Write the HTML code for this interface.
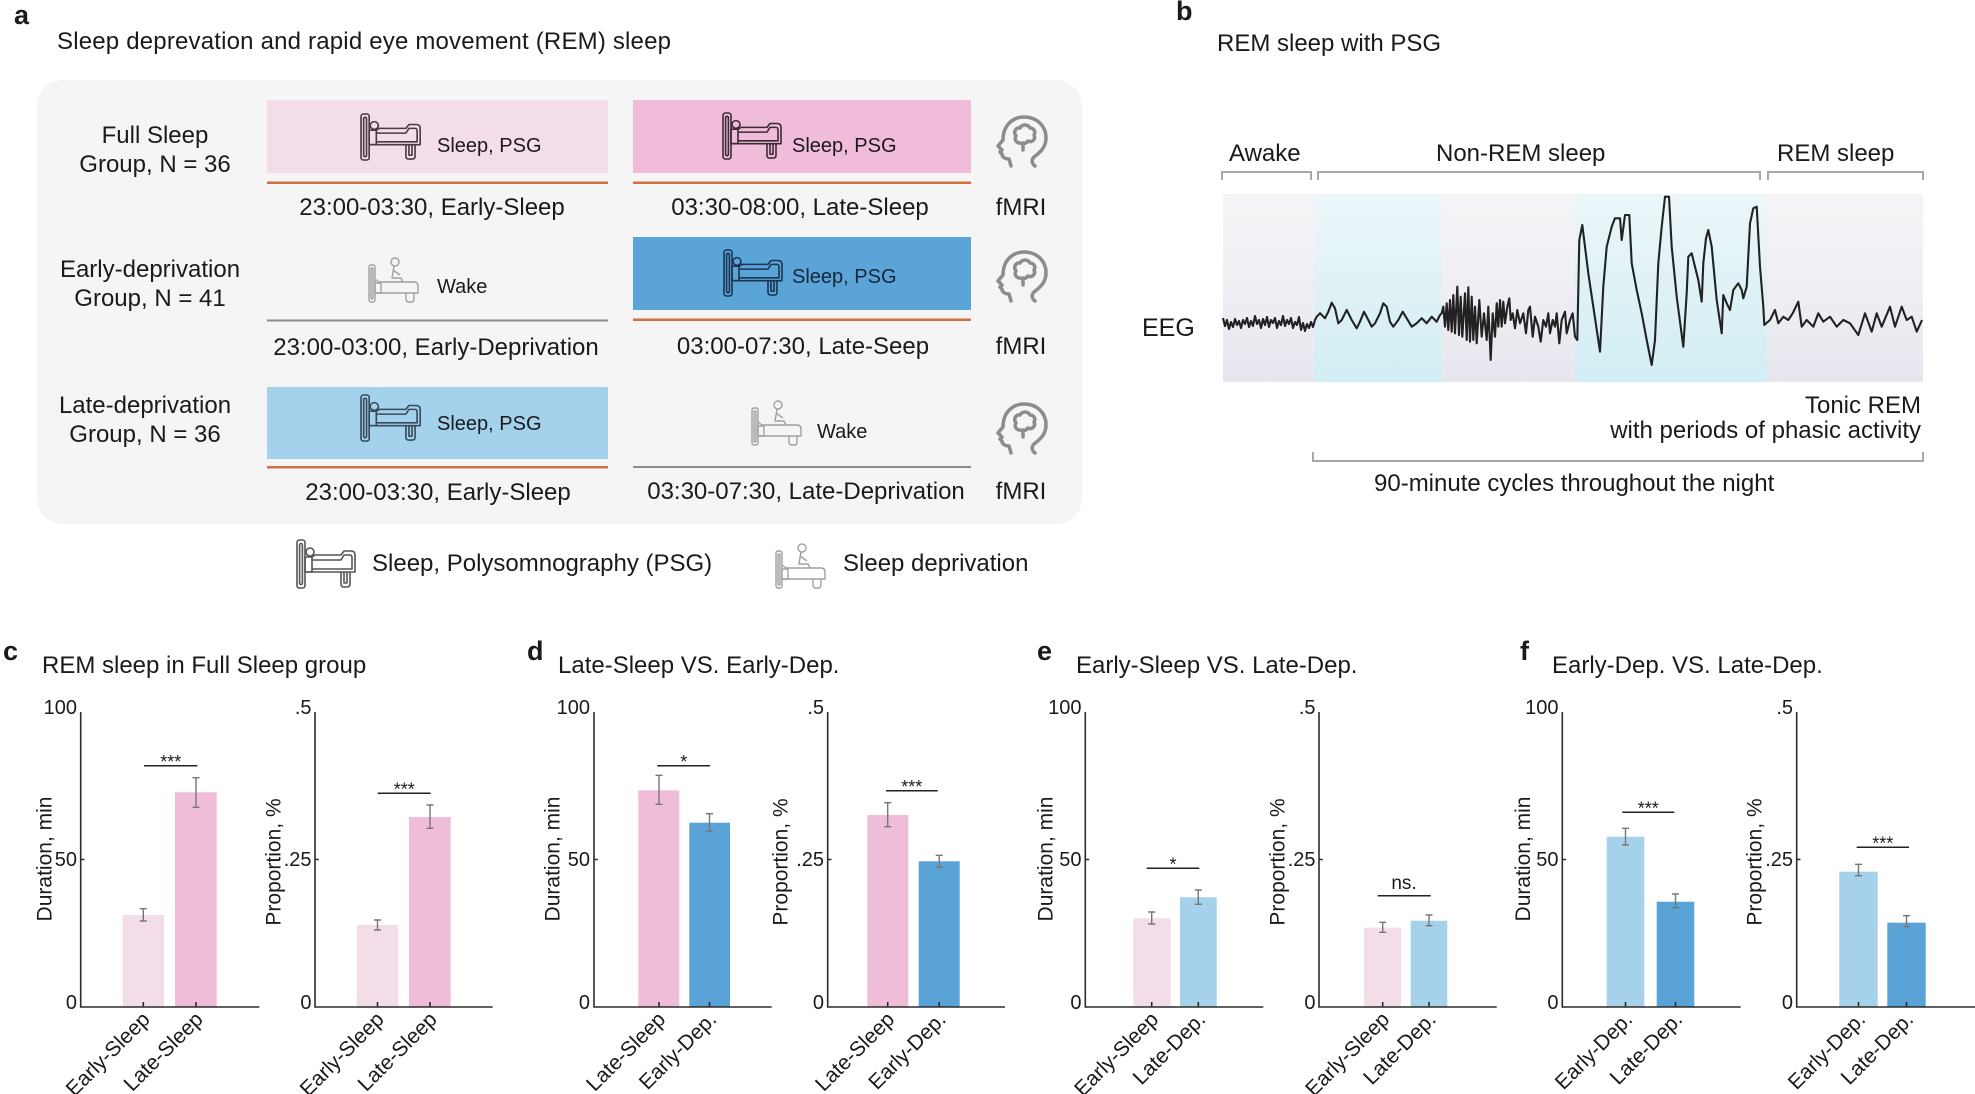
<!DOCTYPE html>
<html><head><meta charset="utf-8">
<style>
html,body{margin:0;padding:0;background:#fff;width:1975px;height:1094px;overflow:hidden;}
svg{display:block;}
text{font-family:"Liberation Sans",Arial,sans-serif;fill:#1a1a1a;}
</style></head><body>
<svg width="1975" height="1094" viewBox="0 0 1975 1094" xmlns="http://www.w3.org/2000/svg">
<defs>
 <linearGradient id="lav" x1="0" y1="0" x2="0" y2="1"><stop offset="0" stop-color="#f5f5f8"/><stop offset="1" stop-color="#e7e7ef"/></linearGradient>
 <linearGradient id="cya" x1="0" y1="0" x2="0" y2="1"><stop offset="0" stop-color="#ecf6f9"/><stop offset="1" stop-color="#d2eef4"/></linearGradient>
</defs>

<!-- ============ PANEL A ============ -->
<text x="14" y="24" font-size="27" font-weight="bold">a</text>
<text x="57" y="49" font-size="24" textLength="614" lengthAdjust="spacing">Sleep deprevation and rapid eye movement (REM) sleep</text>
<rect x="37" y="80" width="1045" height="444" rx="26" fill="#f5f5f5"/>

<!-- Row 1 -->
<text x="155" y="143" font-size="24" text-anchor="middle">Full Sleep</text>
<text x="155" y="172" font-size="24" text-anchor="middle">Group, N = 36</text>
<rect x="267" y="100" width="341" height="73" fill="#f2dde9"/>
<g transform="translate(360,113) scale(1.02,0.96)" fill="none" stroke="#4a3a42" stroke-width="1.6" stroke-linejoin="round">
 <rect x="1" y="1" width="8" height="48" rx="2.5"/><rect x="3.6" y="4.5" width="2.8" height="41" rx="1.4"/>
 <circle cx="14" cy="13" r="4"/><rect x="9" y="18" width="7" height="15"/>
 <path d="M16 18 L19 16 H45 L48 12 H55 Q59 12 59 16 V33 H9"/><path d="M16 21 H45 L48 16 H54 Q56 16 56 19 V30 H16"/>
 <path d="M45 33 V45 Q45 48 48 48 H51 Q54 48 54 45 V33"/><path d="M48 33 V44 H51 V33"/>
</g>
<text x="437" y="152" font-size="20">Sleep, PSG</text>
<rect x="267" y="181.5" width="341" height="2.5" fill="#d2703f"/>
<text x="432" y="215" font-size="24" text-anchor="middle">23:00-03:30, Early-Sleep</text>

<rect x="633" y="100" width="338" height="73" fill="#f0bcd9"/>
<g transform="translate(722,112) scale(1.0,0.96)" fill="none" stroke="#3b2c33" stroke-width="1.6" stroke-linejoin="round">
 <rect x="1" y="1" width="8" height="48" rx="2.5"/><rect x="3.6" y="4.5" width="2.8" height="41" rx="1.4"/>
 <circle cx="14" cy="13" r="4"/><rect x="9" y="18" width="7" height="15"/>
 <path d="M16 18 L19 16 H45 L48 12 H55 Q59 12 59 16 V33 H9"/><path d="M16 21 H45 L48 16 H54 Q56 16 56 19 V30 H16"/>
 <path d="M45 33 V45 Q45 48 48 48 H51 Q54 48 54 45 V33"/><path d="M48 33 V44 H51 V33"/>
</g>
<text x="792" y="152" font-size="20">Sleep, PSG</text>
<rect x="633" y="181.5" width="338" height="2.5" fill="#d2703f"/>
<text x="800" y="215" font-size="24" text-anchor="middle">03:30-08:00, Late-Sleep</text>
<g transform="translate(993,113)" fill="none" stroke="#8c8c8c" stroke-width="3.5" stroke-linecap="round" stroke-linejoin="round">
 <path d="M18 53 L16 46 C12 46 9 44 9 41 L7 39 L9 37 L5 33 L10 27 C10 12 20 4 31 4 C44 4 53 13 53 25 C53 35 46 40 41 44 C38 47 39 51 42 53"/>
 <path d="M27 30 C23 30 21 26 23 23 C20 19 23 14 27 15 C29 11 35 11 37 15 C41 15 43 19 41 22 C43 26 39 30 35 28 C33 31 29 31 27 30 Z M30 30 L30 37"/>
</g>
<text x="1021" y="215" font-size="24" text-anchor="middle">fMRI</text>

<!-- Row 2 -->
<text x="150" y="277" font-size="24" text-anchor="middle">Early-deprivation</text>
<text x="150" y="306" font-size="24" text-anchor="middle">Group, N = 41</text>
<g transform="translate(368,257)" fill="none" stroke="#a0a0a0" stroke-width="1.4" stroke-linejoin="round">
 <rect x="1" y="8" width="6" height="37" rx="2"/><rect x="3" y="11" width="2" height="31" rx="1"/>
 <circle cx="27" cy="5" r="4"/><path d="M26 9 L24 21 H33 L35 25"/><path d="M25 13 L32 18"/>
 <path d="M7 22 L11 25 H46 Q50 25 50 29 V36 H7"/><rect x="7" y="26" width="6" height="10"/>
 <path d="M38 36 V42 Q38 45 41 45 H43 Q46 45 46 42 V36"/>
</g>
<text x="437" y="293" font-size="20">Wake</text>
<rect x="267" y="319.5" width="341" height="2" fill="#8c8c8c"/>
<text x="436" y="355" font-size="24" text-anchor="middle">23:00-03:00, Early-Deprivation</text>

<rect x="633" y="237" width="338" height="73" fill="#5aa4d8"/>
<g transform="translate(723,249) scale(1.0,0.96)" fill="none" stroke="#1c3450" stroke-width="1.6" stroke-linejoin="round">
 <rect x="1" y="1" width="8" height="48" rx="2.5"/><rect x="3.6" y="4.5" width="2.8" height="41" rx="1.4"/>
 <circle cx="14" cy="13" r="4"/><rect x="9" y="18" width="7" height="15"/>
 <path d="M16 18 L19 16 H45 L48 12 H55 Q59 12 59 16 V33 H9"/><path d="M16 21 H45 L48 16 H54 Q56 16 56 19 V30 H16"/>
 <path d="M45 33 V45 Q45 48 48 48 H51 Q54 48 54 45 V33"/><path d="M48 33 V44 H51 V33"/>
</g>
<text x="792" y="283" font-size="20" style="fill:#15253d">Sleep, PSG</text>
<rect x="633" y="318.5" width="338" height="2.5" fill="#d2703f"/>
<text x="803" y="354" font-size="24" text-anchor="middle">03:00-07:30, Late-Seep</text>
<g transform="translate(993,248)" fill="none" stroke="#8c8c8c" stroke-width="3.5" stroke-linecap="round" stroke-linejoin="round">
 <path d="M18 53 L16 46 C12 46 9 44 9 41 L7 39 L9 37 L5 33 L10 27 C10 12 20 4 31 4 C44 4 53 13 53 25 C53 35 46 40 41 44 C38 47 39 51 42 53"/>
 <path d="M27 30 C23 30 21 26 23 23 C20 19 23 14 27 15 C29 11 35 11 37 15 C41 15 43 19 41 22 C43 26 39 30 35 28 C33 31 29 31 27 30 Z M30 30 L30 37"/>
</g>
<text x="1021" y="354" font-size="24" text-anchor="middle">fMRI</text>

<!-- Row 3 -->
<text x="145" y="413" font-size="24" text-anchor="middle">Late-deprivation</text>
<text x="145" y="442" font-size="24" text-anchor="middle">Group, N = 36</text>
<rect x="267" y="387" width="341" height="72" fill="#a4d1ec"/>
<g transform="translate(360,394) scale(1.02,0.96)" fill="none" stroke="#3a4a5a" stroke-width="1.6" stroke-linejoin="round">
 <rect x="1" y="1" width="8" height="48" rx="2.5"/><rect x="3.6" y="4.5" width="2.8" height="41" rx="1.4"/>
 <circle cx="14" cy="13" r="4"/><rect x="9" y="18" width="7" height="15"/>
 <path d="M16 18 L19 16 H45 L48 12 H55 Q59 12 59 16 V33 H9"/><path d="M16 21 H45 L48 16 H54 Q56 16 56 19 V30 H16"/>
 <path d="M45 33 V45 Q45 48 48 48 H51 Q54 48 54 45 V33"/><path d="M48 33 V44 H51 V33"/>
</g>
<text x="437" y="430" font-size="20">Sleep, PSG</text>
<rect x="267" y="466" width="341" height="2.5" fill="#d2703f"/>
<text x="438" y="500" font-size="24" text-anchor="middle">23:00-03:30, Early-Sleep</text>

<g transform="translate(751,400)" fill="none" stroke="#a0a0a0" stroke-width="1.4" stroke-linejoin="round">
 <rect x="1" y="8" width="6" height="37" rx="2"/><rect x="3" y="11" width="2" height="31" rx="1"/>
 <circle cx="27" cy="5" r="4"/><path d="M26 9 L24 21 H33 L35 25"/><path d="M25 13 L32 18"/>
 <path d="M7 22 L11 25 H46 Q50 25 50 29 V36 H7"/><rect x="7" y="26" width="6" height="10"/>
 <path d="M38 36 V42 Q38 45 41 45 H43 Q46 45 46 42 V36"/>
</g>
<text x="817" y="438" font-size="20">Wake</text>
<rect x="633" y="466" width="338" height="2" fill="#8c8c8c"/>
<text x="806" y="499" font-size="24" text-anchor="middle">03:30-07:30, Late-Deprivation</text>
<g transform="translate(993,400)" fill="none" stroke="#8c8c8c" stroke-width="3.5" stroke-linecap="round" stroke-linejoin="round">
 <path d="M18 53 L16 46 C12 46 9 44 9 41 L7 39 L9 37 L5 33 L10 27 C10 12 20 4 31 4 C44 4 53 13 53 25 C53 35 46 40 41 44 C38 47 39 51 42 53"/>
 <path d="M27 30 C23 30 21 26 23 23 C20 19 23 14 27 15 C29 11 35 11 37 15 C41 15 43 19 41 22 C43 26 39 30 35 28 C33 31 29 31 27 30 Z M30 30 L30 37"/>
</g>
<text x="1021" y="499" font-size="24" text-anchor="middle">fMRI</text>

<!-- Legend -->
<g transform="translate(296,539)" fill="none" stroke="#555" stroke-width="1.6" stroke-linejoin="round">
 <rect x="1" y="1" width="8" height="48" rx="2.5"/><rect x="3.6" y="4.5" width="2.8" height="41" rx="1.4"/>
 <circle cx="14" cy="13" r="4"/><rect x="9" y="18" width="7" height="15"/>
 <path d="M16 18 L19 16 H45 L48 12 H55 Q59 12 59 16 V33 H9"/><path d="M16 21 H45 L48 16 H54 Q56 16 56 19 V30 H16"/>
 <path d="M45 33 V45 Q45 48 48 48 H51 Q54 48 54 45 V33"/><path d="M48 33 V44 H51 V33"/>
</g>
<text x="372" y="571" font-size="24">Sleep, Polysomnography (PSG)</text>
<g transform="translate(775,543)" fill="none" stroke="#a0a0a0" stroke-width="1.4" stroke-linejoin="round">
 <rect x="1" y="8" width="6" height="37" rx="2"/><rect x="3" y="11" width="2" height="31" rx="1"/>
 <circle cx="27" cy="5" r="4"/><path d="M26 9 L24 21 H33 L35 25"/><path d="M25 13 L32 18"/>
 <path d="M7 22 L11 25 H46 Q50 25 50 29 V36 H7"/><rect x="7" y="26" width="6" height="10"/>
 <path d="M38 36 V42 Q38 45 41 45 H43 Q46 45 46 42 V36"/>
</g>
<text x="843" y="571" font-size="24">Sleep deprivation</text>

<!-- ============ PANEL B ============ -->
<text x="1176" y="20" font-size="27" font-weight="bold">b</text>
<text x="1217" y="51" font-size="24">REM sleep with PSG</text>
<text x="1229" y="161" font-size="24">Awake</text>
<text x="1436" y="161" font-size="24">Non-REM sleep</text>
<text x="1777" y="161" font-size="24">REM sleep</text>
<g fill="none" stroke="#a8a8a8" stroke-width="2">
 <path d="M1222 180 V172 H1311 V180"/>
 <path d="M1318 180 V172 H1760 V180"/>
 <path d="M1768 180 V172 H1923 V180"/>
 <path d="M1313 452 V461 H1923 V452"/>
</g>
<rect x="1223" y="194" width="92" height="188" fill="url(#lav)"/>
<rect x="1315" y="194" width="126" height="188" fill="url(#cya)"/>
<rect x="1441" y="194" width="134" height="188" fill="url(#lav)"/>
<rect x="1575" y="194" width="192" height="188" fill="url(#cya)"/>
<rect x="1767" y="194" width="156" height="188" fill="url(#lav)"/>
<text x="1142" y="336" font-size="25">EEG</text>
<polyline fill="none" stroke="#222" stroke-width="2.1" stroke-linejoin="round" points="
1223,318 1225,326 1227,320 1229,329 1231,322 1233,327 1235,319 1237,325 1239,321 1241,328 1243,320 1245,324 1247,318 1249,327 1251,321 1253,326 1255,316 1257,324 1259,320 1261,328 1263,319 1265,325 1267,317 1269,327 1271,320 1273,323 1275,318 1277,328 1279,321 1281,325 1283,316 1285,326 1287,320 1289,324 1291,318 1293,328 1295,322 1297,325 1299,317 1301,330 1303,323 1305,331 1307,324 1309,328 1311,322 1313,327 1315,320
1316.7,316.7 1320,313.3 1325,318.3 1328.3,311.7 1331.7,302.7 1335,308.3 1338.3,323.3 1341.7,320 1346.7,310 1351.7,320 1356.7,328.3 1360,321.7 1364,311.7 1368.3,320 1371.7,326.7 1375,323.3 1380,313.3 1383.3,303.3 1386.7,306.7 1390,321.7 1393.3,326.7 1398.3,320 1402.7,311.7 1406.7,318.3 1411.7,326.7 1416.7,323.3 1421.7,318.3 1426.7,323.3 1431.7,316.7 1436.7,321.7 1440,315
1441.7,313.3 1443.3,306.7 1445,326.7 1446.7,303.3 1448.3,330 1450,300 1451.7,331.7 1453.3,295 1455,333.3 1457.3,286.7 1459,335 1460.7,296.7 1462.3,336.7 1465,293.3 1466.7,340 1468.3,287.3 1470,341.7 1471.7,296.7 1473.3,340 1475,306.7 1476.7,343.3 1479.3,300 1481.7,336.7 1484,313.3 1486.7,340 1488.3,306.7 1490.7,360 1492.7,313.3 1495,336.7 1496.7,303.3 1498.3,326.7 1500,300 1501.7,326.7 1503.3,301.7 1505,323.3 1507.3,306.7 1509.3,298.3 1510.7,320 1512.7,313.3 1515,328.3 1517.3,310 1520,323.3 1523.3,313.3 1526,333.3 1528.3,310 1530,306.7 1532.7,336.7 1535,316.7 1538.3,326.7 1540.7,341.7 1543.3,320 1546,326.7 1548.3,313.3 1550,333.3 1552.7,320 1555,326.7 1556.7,313.3 1559.3,343.3 1561.7,320 1565,311.7 1566.7,333.3 1570,320 1572.7,313.3 1575,336.7 1577.3,340
1579.3,240 1582.3,225 1585,246.7 1588.3,273.3 1593.3,306.7 1600,351.7 1603.3,286.7 1606.7,246.7 1611.7,226.7 1615,218.3 1620,218.3 1621.7,240 1625,215 1629.3,215 1631.7,263.3 1636.7,290 1641.7,313.3 1646.7,340 1651.7,365 1655,340 1658.3,263.3 1661.7,226.7 1665,196.7 1669,196.7 1671.7,246.7 1676.7,296.7 1683.3,346.7 1686.7,293.3 1688.3,256.7 1691.7,253.3 1695,266.7 1698.3,280 1701.7,301.7 1703.3,263.3 1706,238.3 1708.3,230 1711.7,246.7 1716.7,300 1721.7,333.3 1723.3,295 1726.7,303.3 1730,310 1733.3,290 1738.3,283.3 1741.7,290 1743.3,298.3 1746.7,286.7 1750,223.3 1753.3,208.3 1756.7,206.7 1760,266.7 1763.3,306.7 1764.3,325
1770,320 1775,310 1778.3,323.3 1783.3,316.7 1788.3,320 1792.7,313.3 1798.3,301.7 1801.7,326.7 1806.7,320 1813.3,326.7 1818.3,313.3 1823.3,321.7 1830,316.7 1836.7,326.7 1843.3,320 1850,323.3 1858.3,335 1865,313.3 1871.7,331.7 1876.7,313.3 1881.7,326.7 1890,306.7 1895,326.7 1901.7,306.7 1906.7,320 1911.7,316.7 1916.7,331.7 1922,320"/>
<text x="1921" y="413" font-size="24" text-anchor="end">Tonic REM</text>
<text x="1921" y="438" font-size="24" text-anchor="end">with periods of phasic activity</text>
<text x="1374" y="491" font-size="24">90-minute cycles throughout the night</text>

<!-- ============ PANELS C-F ============ -->
<text x="3" y="660" font-size="27" font-weight="bold">c</text>
<text x="42" y="673" font-size="24">REM sleep in Full Sleep group</text>
<text x="527" y="660" font-size="27" font-weight="bold">d</text>
<text x="558" y="673" font-size="24">Late-Sleep VS. Early-Dep.</text>
<text x="1037" y="660" font-size="27" font-weight="bold">e</text>
<text x="1076" y="673" font-size="24">Early-Sleep VS. Late-Dep.</text>
<text x="1520" y="660" font-size="27" font-weight="bold">f</text>
<text x="1552" y="673" font-size="24">Early-Dep. VS. Late-Dep.</text>

<!-- Bars -->
<g>
 <rect x="122.7" y="915" width="41.3" height="92" fill="#f3dde9"/>
 <rect x="175" y="792.3" width="41.7" height="214.7" fill="#f0bdd8"/>
 <rect x="356.7" y="925" width="41.6" height="82" fill="#f3dde9"/>
 <rect x="409" y="817" width="41.7" height="190" fill="#f0bdd8"/>
 <rect x="638.3" y="790.3" width="41" height="216.7" fill="#f0bdd8"/>
 <rect x="689.3" y="822.7" width="40.7" height="184.3" fill="#5aa3d6"/>
 <rect x="867.3" y="815" width="41" height="192" fill="#f0bdd8"/>
 <rect x="918.7" y="861.3" width="41" height="145.7" fill="#5aa3d6"/>
 <rect x="1133.3" y="918.3" width="37.4" height="88.7" fill="#f3dde9"/>
 <rect x="1180" y="897.3" width="36.7" height="109.7" fill="#a5d1eb"/>
 <rect x="1364" y="927.7" width="37" height="79.3" fill="#f3dde9"/>
 <rect x="1410.7" y="920.7" width="36.6" height="86.3" fill="#a5d1eb"/>
 <rect x="1606.7" y="836.7" width="37.6" height="170.3" fill="#a5d1eb"/>
 <rect x="1656.7" y="901.7" width="37.6" height="105.3" fill="#5aa3d6"/>
 <rect x="1839.3" y="871.7" width="38.4" height="135.3" fill="#a5d1eb"/>
 <rect x="1887.3" y="922.7" width="38.4" height="84.3" fill="#5aa3d6"/>
</g>
<!-- Error bars -->
<g stroke="#767676" stroke-width="1.4" fill="none">
 <path d="M143.3 908.7V921M139.8 908.7H146.8M139.8 921H146.8"/>
 <path d="M196 777.7V807.3M192.5 777.7H199.5M192.5 807.3H199.5"/>
 <path d="M377.5 920V930M374 920H381M374 930H381"/>
 <path d="M430 805V828.3M426.5 805H433.5M426.5 828.3H433.5"/>
 <path d="M659 775.3V804.3M655.5 775.3H662.5M655.5 804.3H662.5"/>
 <path d="M709.5 813.7V831.3M706 813.7H713M706 831.3H713"/>
 <path d="M887.7 802.7V826.7M884.2 802.7H891.2M884.2 826.7H891.2"/>
 <path d="M939.2 855.3V867.3M935.7 855.3H942.7M935.7 867.3H942.7"/>
 <path d="M1151.7 912V924M1148.2 912H1155.2M1148.2 924H1155.2"/>
 <path d="M1198.3 890V904.3M1194.8 890H1201.8M1194.8 904.3H1201.8"/>
 <path d="M1382.7 922.3V932.3M1379.2 922.3H1386.2M1379.2 932.3H1386.2"/>
 <path d="M1429 915V925.7M1425.5 915H1432.5M1425.5 925.7H1432.5"/>
 <path d="M1625.5 828.3V845M1622 828.3H1629M1622 845H1629"/>
 <path d="M1675.5 894V907.7M1672 894H1679M1672 907.7H1679"/>
 <path d="M1858.5 864.3V875.7M1855 864.3H1862M1855 875.7H1862"/>
 <path d="M1906.5 915.7V926.7M1903 915.7H1910M1903 926.7H1910"/>
</g>
<!-- Axes -->
<g stroke="#2b2b2b" stroke-width="1.6" fill="none">
 <path d="M80.7 712V1007H259.3M80.7 859.5H84.5M143.3 1007V1002M196 1007V1002"/>
 <path d="M315 712V1007H492.7M315 859.5H318.8M377.5 1007V1002M430 1007V1002"/>
 <path d="M594 712V1007H771.7M594 859.5H597.8M659 1007V1002M709.5 1007V1002"/>
 <path d="M827.7 712V1007H1005M827.7 859.5H831.5M887.7 1007V1002M939.2 1007V1002"/>
 <path d="M1085.3 712V1007H1263.3M1085.3 859.5H1089.1M1151.7 1007V1002M1198.3 1007V1002"/>
 <path d="M1319 712V1007H1496.7M1319 859.5H1322.8M1382.7 1007V1002M1429 1007V1002"/>
 <path d="M1562.3 712V1007H1740.7M1562.3 859.5H1566.1M1625.5 1007V1002M1675.5 1007V1002"/>
 <path d="M1796.7 712V1007H1975M1796.7 859.5H1800.5M1858.5 1007V1002M1906.5 1007V1002"/>
</g>
<!-- Significance lines -->
<g stroke="#222" stroke-width="1.5">
 <line x1="144" y1="765.7" x2="197.3" y2="765.7"/>
 <line x1="377.7" y1="793.3" x2="430.7" y2="793.3"/>
 <line x1="657.3" y1="765.7" x2="710" y2="765.7"/>
 <line x1="886" y1="790.7" x2="937.7" y2="790.7"/>
 <line x1="1146.7" y1="868.3" x2="1199.3" y2="868.3"/>
 <line x1="1377.7" y1="895.7" x2="1430.7" y2="895.7"/>
 <line x1="1622.3" y1="812.3" x2="1674.3" y2="812.3"/>
 <line x1="1856.7" y1="847.3" x2="1909" y2="847.3"/>
</g>
<g font-size="18" text-anchor="middle">
 <text x="170.7" y="768">***</text>
 <text x="404.2" y="795.5">***</text>
 <text x="683.7" y="768">*</text>
 <text x="911.8" y="793">***</text>
 <text x="1173" y="870.5">*</text>
 <text x="1648.3" y="814.5">***</text>
 <text x="1882.8" y="849.5">***</text>
</g>
<text x="1404" y="889" font-size="19" text-anchor="middle">ns.</text>

<!-- Y tick labels -->
<g font-size="20" text-anchor="end">
 <text x="77" y="714">100</text><text x="77" y="866">50</text><text x="77" y="1009">0</text>
 <text x="311.5" y="714">.5</text><text x="311.5" y="866">.25</text><text x="311.5" y="1009">0</text>
 <text x="590" y="714">100</text><text x="590" y="866">50</text><text x="590" y="1009">0</text>
 <text x="824" y="714">.5</text><text x="824" y="866">.25</text><text x="824" y="1009">0</text>
 <text x="1081.5" y="714">100</text><text x="1081.5" y="866">50</text><text x="1081.5" y="1009">0</text>
 <text x="1315.5" y="714">.5</text><text x="1315.5" y="866">.25</text><text x="1315.5" y="1009">0</text>
 <text x="1558.5" y="714">100</text><text x="1558.5" y="866">50</text><text x="1558.5" y="1009">0</text>
 <text x="1793" y="714">.5</text><text x="1793" y="866">.25</text><text x="1793" y="1009">0</text>
</g>
<!-- Y axis labels -->
<g font-size="21" text-anchor="middle" dominant-baseline="central">
 <text transform="translate(45,859) rotate(-90)">Duration, min</text>
 <text transform="translate(274,862) rotate(-90)">Proportion, %</text>
 <text transform="translate(553,859) rotate(-90)">Duration, min</text>
 <text transform="translate(781,862) rotate(-90)">Proportion, %</text>
 <text transform="translate(1046,859) rotate(-90)">Duration, min</text>
 <text transform="translate(1278,862) rotate(-90)">Proportion, %</text>
 <text transform="translate(1523.5,859) rotate(-90)">Duration, min</text>
 <text transform="translate(1755,862) rotate(-90)">Proportion, %</text>
</g>
<!-- X tick labels -->
<g font-size="21" text-anchor="end" dominant-baseline="central">
 <text transform="translate(146.5,1016) rotate(-45)">Early-Sleep</text>
 <text transform="translate(199.5,1016) rotate(-45)">Late-Sleep</text>
 <text transform="translate(380.5,1016) rotate(-45)">Early-Sleep</text>
 <text transform="translate(433.5,1016) rotate(-45)">Late-Sleep</text>
 <text transform="translate(662,1016) rotate(-45)">Late-Sleep</text>
 <text transform="translate(713,1016) rotate(-45)">Early-Dep.</text>
 <text transform="translate(891,1016) rotate(-45)">Late-Sleep</text>
 <text transform="translate(942.5,1016) rotate(-45)">Early-Dep.</text>
 <text transform="translate(1155,1016) rotate(-45)">Early-Sleep</text>
 <text transform="translate(1202,1016) rotate(-45)">Late-Dep.</text>
 <text transform="translate(1386,1016) rotate(-45)">Early-Sleep</text>
 <text transform="translate(1432.5,1016) rotate(-45)">Late-Dep.</text>
 <text transform="translate(1629,1016) rotate(-45)">Early-Dep.</text>
 <text transform="translate(1679,1016) rotate(-45)">Late-Dep.</text>
 <text transform="translate(1862,1016) rotate(-45)">Early-Dep.</text>
 <text transform="translate(1910,1016) rotate(-45)">Late-Dep.</text>
</g>
</svg>
</body></html>
